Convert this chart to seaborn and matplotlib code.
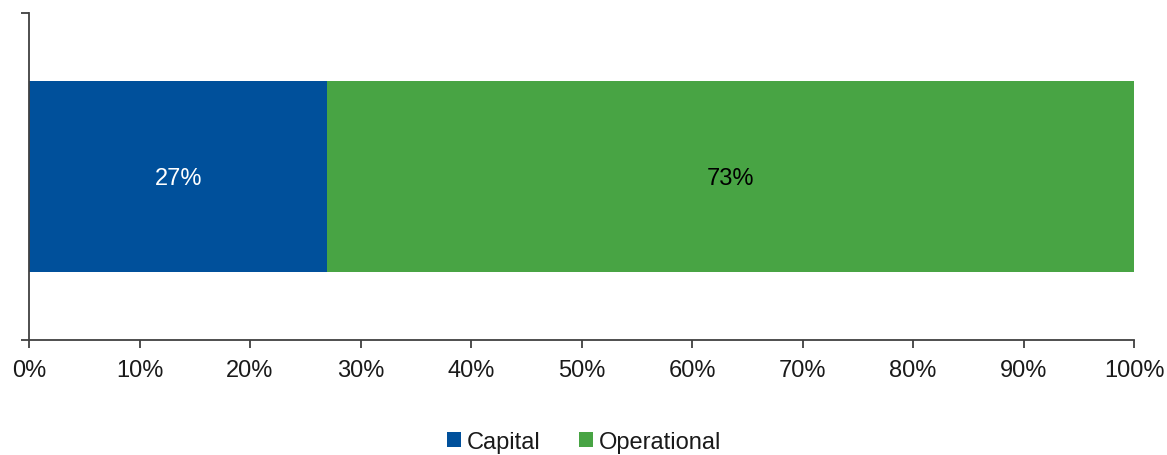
import matplotlib
matplotlib.use("Agg")
import matplotlib.pyplot as plt
from matplotlib.patches import Patch
import seaborn as sns
import pandas as pd

# Share of total spend by type
categories = ["Capital", "Operational"]
shares = [27, 73]
colors = ["#00509B", "#48A444"]
label_colors = ["white", "black"]

sns.set_theme(style="white")
plt.rcParams["font.family"] = ["Liberation Sans", "DejaVu Sans"]

fig = plt.figure(figsize=(11.67, 4.56), dpi=100)
ax = fig.add_axes([29 / 1167, 1 - 341 / 456, (1134 - 29) / 1167, (341 - 14) / 456])

# Stacked horizontal bar: draw cumulative totals from the back forward
cum = pd.Series(shares).cumsum().tolist()
df = pd.DataFrame({"row": ["all"] * len(categories), "cum": cum, "type": categories})
for i in reversed(range(len(categories))):
    sns.barplot(data=df.iloc[[i]], x="cum", y="row", orient="h",
                color=colors[i], width=0.587, saturation=1,
                edgecolor="none", linewidth=0, ax=ax)

# Value labels centred in each segment
start = 0
for share, lc in zip(shares, label_colors):
    ax.text(start + share / 2, 0.005, f"{share}%", ha="center", va="center",
            color=lc, fontsize=17)
    start += share

ax.set_xlim(0, 100)
ax.set_ylim(0.5, -0.5)
ax.set_xticks(range(0, 101, 10))
ax.set_xticklabels([f"{v}%" for v in range(0, 101, 10)], fontsize=17, color="#1a1a1a")
ax.set_yticks([-0.5, 0.5])
ax.set_yticklabels([])
ax.set_xlabel("")
ax.set_ylabel("")
ax.tick_params(axis="both", direction="out", length=6, width=1.3, color="#404040", bottom=True, left=True)
ax.tick_params(axis="x", pad=8)
for side in ["top", "right"]:
    ax.spines[side].set_visible(False)
for side in ["left", "bottom"]:
    ax.spines[side].set_color("#404040")
    ax.spines[side].set_linewidth(1.3)

handles = [Patch(facecolor=c, edgecolor="none") for c in colors]
fig.legend(handles, categories, loc="center", bbox_to_anchor=(584 / 1167, 1 - 443 / 456),
           ncol=2, frameon=False, fontsize=17, handlelength=0.6, handleheight=0.6,
           handletextpad=0.25, columnspacing=1.6, labelcolor="#1a1a1a")

fig.savefig("out.png", dpi=100)
